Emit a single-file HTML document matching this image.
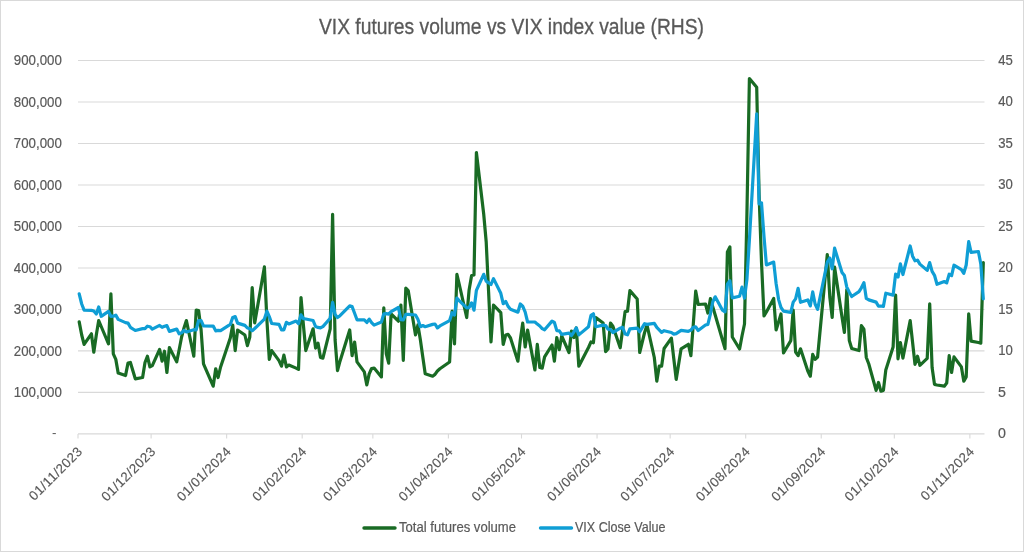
<!DOCTYPE html>
<html><head><meta charset="utf-8"><style>
html,body{margin:0;padding:0;background:#fff;}
svg{display:block;will-change:transform;}
text{font-family:"Liberation Sans",sans-serif;fill:#595959;}
</style></head><body>
<svg width="1024" height="552" viewBox="0 0 1024 552">
<rect x="0.5" y="0.5" width="1023" height="551" fill="#fff" stroke="#d9d9d9" stroke-width="1"/>
<g stroke="#d9d9d9" stroke-width="1.1"><line x1="78.0" x2="984.5" y1="392.41" y2="392.41"/><line x1="78.0" x2="984.5" y1="350.92" y2="350.92"/><line x1="78.0" x2="984.5" y1="309.43" y2="309.43"/><line x1="78.0" x2="984.5" y1="267.94" y2="267.94"/><line x1="78.0" x2="984.5" y1="226.46" y2="226.46"/><line x1="78.0" x2="984.5" y1="184.97" y2="184.97"/><line x1="78.0" x2="984.5" y1="143.48" y2="143.48"/><line x1="78.0" x2="984.5" y1="101.99" y2="101.99"/><line x1="78.0" x2="984.5" y1="60.50" y2="60.50"/><line x1="78.0" x2="984.5" y1="433.9" y2="433.9"/><line x1="78.00" x2="78.00" y1="433.9" y2="438.5"/><line x1="151.10" x2="151.10" y1="433.9" y2="438.5"/><line x1="226.65" x2="226.65" y1="433.9" y2="438.5"/><line x1="302.19" x2="302.19" y1="433.9" y2="438.5"/><line x1="372.86" x2="372.86" y1="433.9" y2="438.5"/><line x1="448.40" x2="448.40" y1="433.9" y2="438.5"/><line x1="521.50" x2="521.50" y1="433.9" y2="438.5"/><line x1="597.04" x2="597.04" y1="433.9" y2="438.5"/><line x1="670.15" x2="670.15" y1="433.9" y2="438.5"/><line x1="745.69" x2="745.69" y1="433.9" y2="438.5"/><line x1="821.23" x2="821.23" y1="433.9" y2="438.5"/><line x1="894.34" x2="894.34" y1="433.9" y2="438.5"/><line x1="969.88" x2="969.88" y1="433.9" y2="438.5"/></g>
<text x="511.5" y="33.7" text-anchor="middle" style="font-size:21.8px;stroke:#595959;stroke-width:0.3px" textLength="385" lengthAdjust="spacingAndGlyphs">VIX futures volume vs VIX index value (RHS)</text>
<g style="font-size:14.2px;stroke:#595959;stroke-width:0.2px"><text x="61.8" y="397.11" text-anchor="end" textLength="48.0" lengthAdjust="spacingAndGlyphs">100,000</text><text x="61.8" y="355.62" text-anchor="end" textLength="48.0" lengthAdjust="spacingAndGlyphs">200,000</text><text x="61.8" y="314.13" text-anchor="end" textLength="48.0" lengthAdjust="spacingAndGlyphs">300,000</text><text x="61.8" y="272.64" text-anchor="end" textLength="48.0" lengthAdjust="spacingAndGlyphs">400,000</text><text x="61.8" y="231.16" text-anchor="end" textLength="48.0" lengthAdjust="spacingAndGlyphs">500,000</text><text x="61.8" y="189.67" text-anchor="end" textLength="48.0" lengthAdjust="spacingAndGlyphs">600,000</text><text x="61.8" y="148.18" text-anchor="end" textLength="48.0" lengthAdjust="spacingAndGlyphs">700,000</text><text x="61.8" y="106.69" text-anchor="end" textLength="48.0" lengthAdjust="spacingAndGlyphs">800,000</text><text x="61.8" y="65.20" text-anchor="end" textLength="48.0" lengthAdjust="spacingAndGlyphs">900,000</text><text x="998" y="438.30">0</text><text x="998" y="396.81">5</text><text x="998.2" y="355.32" textLength="14.6" lengthAdjust="spacingAndGlyphs">10</text><text x="998.2" y="313.83" textLength="14.6" lengthAdjust="spacingAndGlyphs">15</text><text x="998.2" y="272.34" textLength="14.6" lengthAdjust="spacingAndGlyphs">20</text><text x="998.2" y="230.86" textLength="14.6" lengthAdjust="spacingAndGlyphs">25</text><text x="998.2" y="189.37" textLength="14.6" lengthAdjust="spacingAndGlyphs">30</text><text x="998.2" y="147.88" textLength="14.6" lengthAdjust="spacingAndGlyphs">35</text><text x="998.2" y="106.39" textLength="14.6" lengthAdjust="spacingAndGlyphs">40</text><text x="998.2" y="64.90" textLength="14.6" lengthAdjust="spacingAndGlyphs">45</text></g>
<g style="font-size:13.3px;letter-spacing:0.38px;stroke:#595959;stroke-width:0.15px"><text transform="translate(83.30,452.2) rotate(-45)" text-anchor="end">01/11/2023</text><text transform="translate(156.40,452.2) rotate(-45)" text-anchor="end">01/12/2023</text><text transform="translate(231.95,452.2) rotate(-45)" text-anchor="end">01/01/2024</text><text transform="translate(307.49,452.2) rotate(-45)" text-anchor="end">01/02/2024</text><text transform="translate(378.16,452.2) rotate(-45)" text-anchor="end">01/03/2024</text><text transform="translate(453.70,452.2) rotate(-45)" text-anchor="end">01/04/2024</text><text transform="translate(526.80,452.2) rotate(-45)" text-anchor="end">01/05/2024</text><text transform="translate(602.34,452.2) rotate(-45)" text-anchor="end">01/06/2024</text><text transform="translate(675.45,452.2) rotate(-45)" text-anchor="end">01/07/2024</text><text transform="translate(750.99,452.2) rotate(-45)" text-anchor="end">01/08/2024</text><text transform="translate(826.53,452.2) rotate(-45)" text-anchor="end">01/09/2024</text><text transform="translate(899.64,452.2) rotate(-45)" text-anchor="end">01/10/2024</text><text transform="translate(975.18,452.2) rotate(-45)" text-anchor="end">01/11/2024</text></g><text x="52" y="437.4" style="font-size:13.3px">-</text>
<path d="M79.2 321.9 L81.7 335.0 L84.1 344.4 L91.4 333.8 L93.8 352.2 L96.3 335.0 L98.7 320.6 L101.2 326.5 L108.5 343.8 L110.9 293.8 L113.3 353.8 L115.8 359.4 L118.2 373.1 L125.5 375.6 L128.0 363.1 L130.4 362.5 L135.3 378.8 L142.6 377.5 L145.0 362.5 L147.4 356.2 L149.9 366.9 L152.3 365.6 L159.6 349.4 L162.1 361.2 L164.5 351.2 L166.9 372.5 L169.4 347.5 L176.7 361.9 L179.1 350.0 L181.6 337.0 L184.0 328.0 L186.4 320.6 L193.8 356.2 L196.2 310.0 L198.6 310.5 L201.1 330.0 L203.5 363.8 L213.2 386.2 L215.7 368.8 L218.1 377.5 L220.6 367.0 L230.3 338.0 L232.7 325.0 L235.2 350.6 L237.6 330.0 L244.9 335.0 L247.4 345.6 L249.8 337.0 L252.2 287.5 L254.7 323.0 L264.4 266.9 L266.9 320.0 L269.3 359.4 L271.7 350.6 L279.0 360.6 L281.5 366.2 L283.9 355.0 L286.4 366.9 L288.8 365.0 L296.1 368.1 L298.5 369.4 L301.0 297.5 L303.4 325.0 L305.8 350.6 L313.1 328.8 L315.6 348.1 L318.0 343.1 L320.5 357.5 L322.9 358.1 L330.2 328.8 L332.6 214.4 L335.1 340.0 L337.5 370.6 L340.0 361.2 L349.7 330.0 L352.1 355.6 L354.6 342.0 L357.0 361.9 L364.3 371.9 L366.8 385.0 L369.2 373.8 L371.6 368.5 L374.1 368.1 L381.4 376.9 L383.8 307.8 L386.3 353.8 L388.7 363.1 L391.1 313.8 L398.4 321.2 L400.9 305.0 L403.3 360.3 L405.8 288.1 L408.2 290.6 L415.5 335.0 L417.9 325.0 L420.4 340.0 L422.8 357.0 L425.2 373.8 L432.6 376.2 L435.0 374.4 L437.4 371.0 L439.9 368.8 L449.6 362.0 L452.1 311.0 L454.5 344.0 L456.9 274.4 L459.4 285.0 L466.7 317.5 L469.1 290.0 L471.6 275.5 L474.0 275.0 L476.4 152.5 L483.7 214.0 L486.2 242.0 L488.6 292.0 L491.0 342.0 L493.5 305.0 L500.8 312.7 L503.2 344.5 L505.7 335.0 L508.1 334.4 L510.5 338.0 L517.9 361.2 L520.3 340.0 L522.7 323.1 L525.2 347.0 L527.6 330.0 L534.9 370.0 L537.3 344.4 L539.8 367.5 L542.2 368.1 L544.6 356.9 L552.0 345.0 L554.4 361.2 L556.8 337.5 L559.3 349.7 L561.7 336.0 L569.0 352.5 L571.5 331.0 L573.9 337.5 L576.3 328.0 L578.8 366.2 L588.5 347.5 L591.0 341.9 L593.4 342.8 L595.8 317.5 L603.1 323.0 L605.6 351.6 L608.0 349.0 L610.5 323.1 L612.9 326.2 L620.2 347.8 L622.6 330.0 L625.1 311.6 L627.5 311.2 L629.9 290.6 L637.2 299.0 L639.7 352.5 L644.6 332.5 L647.0 325.0 L654.3 357.5 L656.8 381.2 L659.2 366.2 L661.6 366.2 L664.1 348.5 L671.4 338.1 L673.8 358.8 L676.2 379.4 L681.1 348.8 L688.4 344.3 L690.9 355.6 L693.3 324.0 L695.7 291.1 L698.2 304.5 L705.5 304.0 L707.9 313.0 L710.4 298.7 L712.8 307.0 L715.2 315.0 L722.5 340.0 L725.0 348.6 L727.4 252.0 L729.9 247.0 L732.3 337.0 L739.6 349.0 L742.0 336.0 L744.5 324.0 L746.9 215.0 L749.4 78.5 L756.7 87.2 L759.1 195.0 L761.5 262.0 L764.0 316.0 L766.4 312.0 L773.7 298.5 L776.1 330.0 L778.6 322.0 L781.0 314.0 L783.5 353.0 L790.8 340.6 L793.2 310.0 L795.6 352.0 L798.1 355.6 L800.5 348.8 L807.8 371.0 L810.3 376.2 L812.7 354.4 L815.1 359.4 L817.6 357.0 L827.3 254.5 L829.8 297.0 L832.2 317.5 L834.6 267.2 L842.0 317.0 L844.4 332.5 L846.8 289.5 L849.3 340.5 L851.7 348.5 L859.0 350.5 L861.4 325.7 L863.9 329.2 L866.3 357.5 L868.8 364.0 L876.1 390.4 L878.5 382.5 L880.9 391.1 L883.4 390.4 L885.8 370.0 L893.1 346.9 L895.6 295.0 L898.0 358.8 L900.4 342.5 L902.9 358.1 L910.2 320.6 L912.6 342.5 L915.0 364.4 L917.5 356.2 L919.9 365.3 L927.2 358.4 L929.7 303.8 L932.1 367.5 L934.5 384.4 L937.0 385.0 L944.3 386.2 L946.7 383.1 L949.2 355.6 L951.6 372.5 L954.0 356.9 L961.4 366.9 L963.8 381.2 L966.2 376.9 L968.7 313.8 L971.1 341.2 L978.4 342.5 L980.8 343.1 L983.3 262.5" fill="none" stroke="#196B24" stroke-width="3.2" stroke-linejoin="round" stroke-linecap="round"/>
<path d="M79.2 293.9 L81.7 304.0 L84.1 310.2 L91.4 310.4 L93.8 311.0 L96.3 314.0 L98.7 307.0 L101.2 316.3 L108.5 311.4 L110.9 316.4 L113.3 316.2 L115.8 315.1 L118.2 319.4 L125.5 322.6 L128.0 323.1 L130.4 327.3 L135.3 330.5 L142.6 328.6 L145.0 328.6 L147.4 326.2 L149.9 326.7 L152.3 329.1 L159.6 325.4 L162.1 327.3 L164.5 326.3 L166.9 325.6 L169.4 331.4 L176.7 329.1 L179.1 333.8 L181.6 332.8 L184.0 330.3 L186.4 332.0 L193.8 329.7 L196.2 329.9 L198.6 320.5 L201.1 320.6 L203.5 325.8 L213.2 326.1 L215.7 330.8 L218.1 330.4 L220.6 330.6 L230.3 324.4 L232.7 317.4 L235.2 316.6 L237.6 323.1 L244.9 325.4 L247.4 328.0 L249.8 328.6 L252.2 330.7 L254.7 328.5 L264.4 319.1 L266.9 311.2 L269.3 316.6 L271.7 323.5 L279.0 324.4 L281.5 329.8 L283.9 329.8 L286.4 322.3 L288.8 323.9 L296.1 321.1 L298.5 323.5 L301.0 314.8 L303.4 318.7 L305.8 319.0 L313.1 320.5 L315.6 326.6 L318.0 327.4 L320.5 327.8 L322.9 326.6 L330.2 318.2 L332.6 302.4 L335.1 314.6 L337.5 317.6 L340.0 315.7 L349.7 305.9 L352.1 306.6 L354.6 313.2 L357.0 319.8 L364.3 319.9 L366.8 322.5 L369.2 319.1 L371.6 322.7 L374.1 325.1 L381.4 322.0 L383.8 313.9 L386.3 313.6 L388.7 314.1 L391.1 311.6 L398.4 307.5 L400.9 319.6 L403.3 319.8 L405.8 314.4 L408.2 314.3 L415.5 315.0 L417.9 319.2 L420.4 326.7 L422.8 325.5 L425.2 326.7 L432.6 324.4 L435.0 324.0 L437.4 327.9 L439.9 325.9 L449.6 320.6 L452.1 312.7 L454.5 315.0 L456.9 298.2 L459.4 300.9 L466.7 307.9 L469.1 307.6 L471.6 302.8 L474.0 310.2 L476.4 290.3 L483.7 274.3 L486.2 281.2 L488.6 282.8 L491.0 284.5 L493.5 278.6 L500.8 293.3 L503.2 303.7 L505.7 301.4 L508.1 306.4 L510.5 309.2 L517.9 312.2 L520.3 304.0 L522.7 306.2 L525.2 312.1 L527.6 322.0 L534.9 322.0 L537.3 324.1 L539.8 326.0 L542.2 328.6 L544.6 329.8 L552.0 321.1 L554.4 322.5 L556.8 330.6 L559.3 330.8 L561.7 334.4 L569.0 333.1 L571.5 335.5 L573.9 331.9 L576.3 327.9 L578.8 334.9 L588.5 326.7 L591.0 315.4 L593.4 313.8 L595.8 326.7 L603.1 325.1 L605.6 325.5 L608.0 329.1 L610.5 329.5 L612.9 332.5 L620.2 328.2 L622.6 327.3 L625.1 334.0 L627.5 334.8 L629.9 328.9 L637.2 328.1 L639.7 331.8 L644.6 323.7 L647.0 324.4 L654.3 323.3 L656.8 327.4 L659.2 329.8 L661.6 332.3 L664.1 330.7 L671.4 332.5 L673.8 334.1 L676.2 333.6 L681.1 330.3 L688.4 331.3 L690.9 330.1 L693.3 327.3 L695.7 326.8 L698.2 330.5 L705.5 325.0 L707.9 324.4 L710.4 313.8 L712.8 301.7 L715.2 296.8 L722.5 310.2 L725.0 311.8 L727.4 284.2 L729.9 280.7 L732.3 297.9 L739.6 296.2 L742.0 287.1 L744.5 298.1 L746.9 279.6 L749.4 239.8 L756.7 113.8 L759.1 204.0 L761.5 202.8 L764.0 236.5 L766.4 264.9 L773.7 262.1 L776.1 283.5 L778.6 299.6 L781.0 307.5 L783.5 311.1 L790.8 312.3 L793.2 302.1 L795.6 298.9 L798.1 288.3 L800.5 302.3 L807.8 299.9 L810.3 305.9 L812.7 291.9 L815.1 304.0 L817.6 309.4 L827.3 262.0 L829.8 258.0 L832.2 268.8 L834.6 248.2 L842.0 272.5 L844.4 275.6 L846.8 287.1 L849.3 292.3 L851.7 296.5 L859.0 291.7 L861.4 287.8 L863.9 282.6 L866.3 298.4 L868.8 299.9 L876.1 302.1 L878.5 306.2 L880.9 306.0 L883.4 306.4 L885.8 293.2 L893.1 295.1 L895.6 274.1 L898.0 277.1 L900.4 263.9 L902.9 274.5 L910.2 246.0 L912.6 256.2 L915.0 260.8 L917.5 260.2 L919.9 264.1 L927.2 270.4 L929.7 262.6 L932.1 271.4 L934.5 275.3 L937.0 284.3 L944.3 281.5 L946.7 282.9 L949.2 274.2 L951.6 275.6 L954.0 265.2 L961.4 269.6 L963.8 273.4 L966.2 265.0 L968.7 241.7 L971.1 252.3 L978.4 251.5 L980.8 263.9 L983.3 298.9" fill="none" stroke="#0F9ED5" stroke-width="3.2" stroke-linejoin="round" stroke-linecap="round"/>
<line x1="364" x2="395" y1="528" y2="528" stroke="#196B24" stroke-width="3.4" stroke-linecap="round"/>
<text x="399" y="532.1" style="font-size:13.8px;stroke:#595959;stroke-width:0.2px" textLength="117" lengthAdjust="spacingAndGlyphs">Total futures volume</text>
<line x1="540.5" x2="571.5" y1="528" y2="528" stroke="#0F9ED5" stroke-width="3.4" stroke-linecap="round"/>
<text x="575" y="532.1" style="font-size:13.8px;stroke:#595959;stroke-width:0.2px" textLength="90.5" lengthAdjust="spacingAndGlyphs">VIX Close Value</text>
</svg>
</body></html>
